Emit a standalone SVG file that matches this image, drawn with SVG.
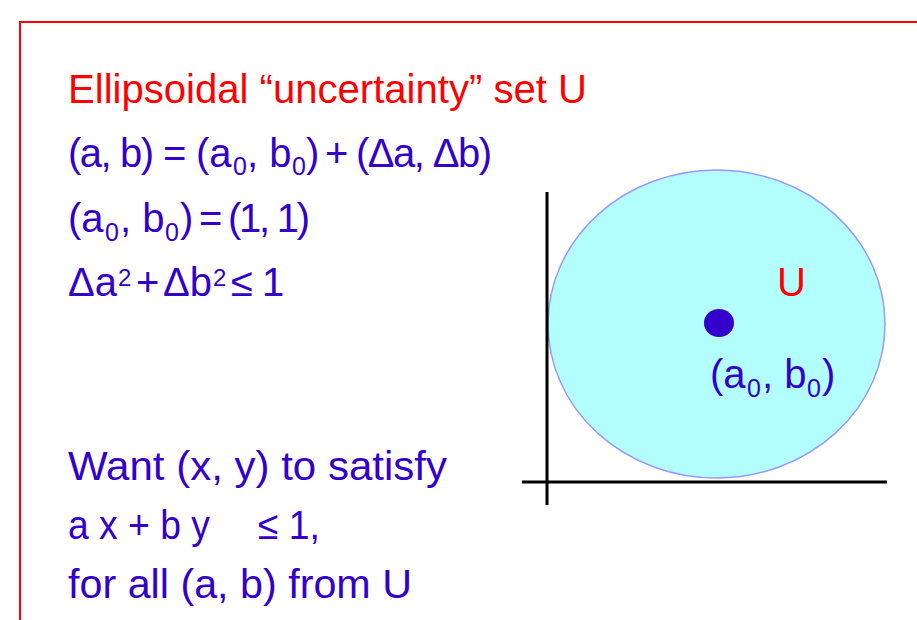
<svg xmlns="http://www.w3.org/2000/svg" width="917" height="620" viewBox="0 0 917 620">
<style>
  .t { font-family: "Comic Sans MS", "Liberation Sans", Arial, sans-serif; font-size: 40px; }
  .blue { fill: #3300cc; }
  .red { fill: #ff0000; }
  .sub { font-family: "Comic Sans MS", "Liberation Sans", Arial, sans-serif; font-size: 25px; fill: #3300cc; }
  .sup { font-family: "Comic Sans MS", "Liberation Sans", Arial, sans-serif; font-size: 24px; fill: #3300cc; }
  .axis { stroke: #000000; stroke-width: 3; fill: none; }
</style>
<rect width="917" height="620" fill="#ffffff"/>
<g id="frame">
  <path d="M20,640 L20,22 L940,22" fill="none" stroke="#ff0000" stroke-width="2"/>
</g>
<g id="title">
  <text class="t red" x="68" y="103" textLength="519" lengthAdjust="spacingAndGlyphs">Ellipsoidal “uncertainty” set U</text>
</g>
<g id="eq1">
  <text class="t blue" x="68" y="167" textLength="86" lengthAdjust="spacing">(a, b)</text>
  <text class="t blue" x="163" y="167">=</text>
  <text class="t blue" x="196" y="167">(a</text>
  <text class="sub" x="233" y="175">0</text>
  <text class="t blue" x="247" y="167">, b</text>
  <text class="sub" x="292" y="175">0</text>
  <text class="t blue" x="306" y="167">)</text>
  <text class="t blue" x="325" y="167">+</text>
  <text class="t blue" x="356" y="167" textLength="136" lengthAdjust="spacing">(Δa, Δb)</text>
</g>
<g id="eq2">
  <text class="t blue" x="68" y="232">(a</text>
  <text class="sub" x="105" y="241">0</text>
  <text class="t blue" x="120" y="232">, b</text>
  <text class="sub" x="165" y="241">0</text>
  <text class="t blue" x="180" y="232">)</text>
  <text class="t blue" x="199" y="232">=</text>
  <text class="t blue" x="228" y="232" textLength="82" lengthAdjust="spacing">(1, 1)</text>
</g>
<g id="eq3">
  <text class="t blue" x="68" y="296">Δa</text>
  <text class="sup" x="118" y="286">2</text>
  <text class="t blue" x="136" y="296">+</text>
  <text class="t blue" x="163" y="296">Δb</text>
  <text class="sup" x="213" y="286">2</text>
  <text class="t blue" x="231" y="296">≤</text>
  <text class="t blue" x="262" y="296">1</text>
</g>
<g id="want">
  <text class="t blue" x="68" y="480" textLength="379" lengthAdjust="spacingAndGlyphs">Want (x, y) to satisfy</text>
</g>
<g id="constraint">
  <text class="t blue" x="68" y="539" textLength="142" lengthAdjust="spacingAndGlyphs">a x + b y</text>
  <text class="t blue" x="258" y="539" textLength="62" lengthAdjust="spacingAndGlyphs">≤ 1,</text>
</g>
<g id="forall">
  <text class="t blue" x="68" y="598" textLength="344" lengthAdjust="spacingAndGlyphs">for all (a, b) from U</text>
</g>
<g id="uncertainty-set">
  <ellipse cx="716.5" cy="324" rx="168.5" ry="154" fill="#b3ffff" stroke="#9999ff" stroke-width="1.5"/>
</g>
<g id="connectors">
  <line class="axis" x1="547" y1="192" x2="547" y2="505"/>
  <line class="axis" x1="522" y1="482" x2="887" y2="482"/>
</g>
<g id="center-point">
  <ellipse cx="719" cy="323" rx="15" ry="14" fill="#3300cc"/>
  <text class="t blue" x="710" y="388">(a</text>
  <text class="sub" x="747" y="397">0</text>
  <text class="t blue" x="762" y="388">, b</text>
  <text class="sub" x="807" y="397">0</text>
  <text class="t blue" x="822" y="388">)</text>
</g>
<g id="label-U">
  <text class="t red" x="777" y="296">U</text>
</g>
</svg>
